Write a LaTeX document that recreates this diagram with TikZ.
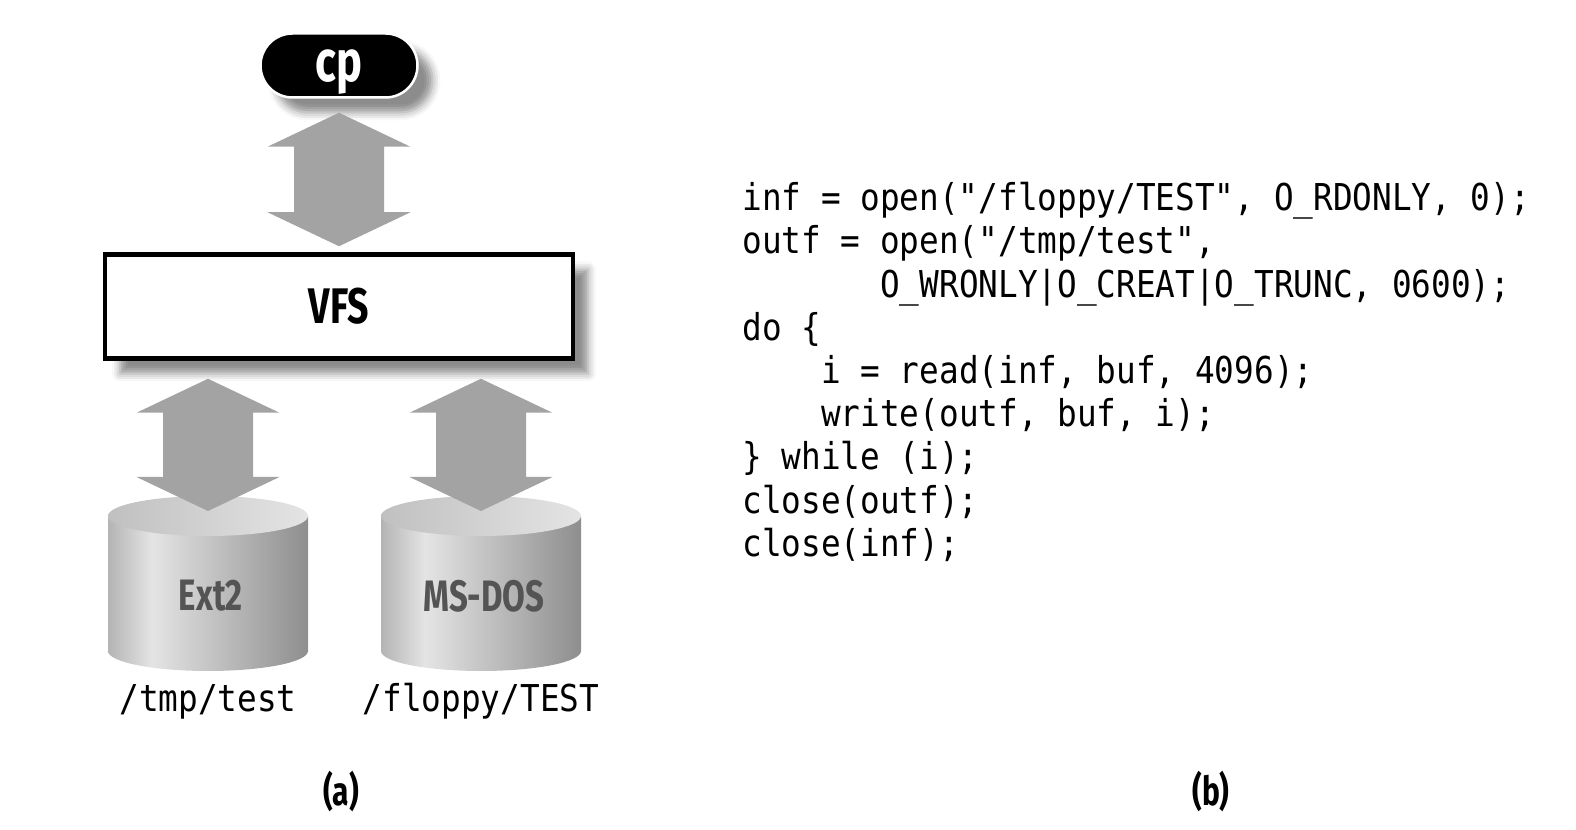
\documentclass[tikz,border=0pt]{standalone}
\usepackage{fontspec}
\setmonofont[FakeStretch=0.884]{DejaVu Sans Mono}
\newfontfamily\labelfont[FakeStretch=0.75]{Fira Sans}
\usetikzlibrary{positioning,calc,shadows.blur}

\definecolor{arrowgray}{HTML}{A3A3A3}
\definecolor{disklabel}{HTML}{545454}
\definecolor{bodyleft}{HTML}{B4B4B4}
\definecolor{bodylight}{HTML}{E4E4E4}
\definecolor{bodyright}{HTML}{8E8E8E}
\definecolor{topleft}{HTML}{C0C0C0}
\definecolor{topright}{HTML}{E4E4E4}

\pgfdeclarehorizontalshading{diskbody}{100bp}{color(0bp)=(bodyleft); color(25bp)=(bodyleft);
  color(36bp)=(bodylight); color(75bp)=(bodyright); color(100bp)=(bodyright)}
\pgfdeclarehorizontalshading{disktop}{100bp}{color(0bp)=(topleft); color(25bp)=(topleft);
  color(75bp)=(topright); color(100bp)=(topright)}

% vertical double block arrow between two points
\newcommand{\blockarrow}[2]{%
  \fill[arrowgray] let \p1=#1, \p2=#2 in
    (\x1,\y1) -- (\x1+35.75pt,\y1-17pt) -- (\x1+22.5pt,\y1-17pt)
    -- (\x1+22.5pt,\y2+17pt) -- (\x1+35.75pt,\y2+17pt) -- (\x1,\y2)
    -- (\x1-35.75pt,\y2+17pt) -- (\x1-22.5pt,\y2+17pt)
    -- (\x1-22.5pt,\y1-17pt) -- (\x1-35.75pt,\y1-17pt) -- cycle;}

\begin{document}
\begin{tikzpicture}[x=0.5pt, y=0.5pt, every node/.style={inner sep=0pt},
    boldlabel/.style={font=\labelfont\bfseries\fontsize{#1}{#1}\selectfont},
    softshadow/.style={blur shadow={shadow xshift=7.5pt, shadow yshift=-7.5pt,
        shadow blur radius=4pt, shadow opacity=45}},
    codetext/.style={font=\ttfamily\fontsize{18.5}{21.6}\selectfont\frenchspacing}]
    \useasboundingbox (0,0) rectangle (1576,830);

    % (a) - cp, VFS and the two file systems
    \node[boldlabel=29, text=white, fill=black, draw=white, line width=1.25pt, text depth=0pt,
          minimum width=78.5pt, minimum height=32pt, rounded corners=16pt,
          softshadow] (cp) at (339,764.5) {cp};
    \node[boldlabel=25, fill=white, draw=black, line width=2.25pt,
          minimum width=234pt, minimum height=52pt, softshadow] (vfs) at (339,523.5) {VFS};

    \foreach \name/\cx/\fs/\file in {ext2/208/Ext2/{/tmp/test}, msdos/481/MS-DOS/{/floppy/TEST}} {
        \shade[shading=diskbody] (\cx-100,314) -- (\cx-100,179)
            arc[start angle=180, end angle=360, x radius=50pt, y radius=10pt]
            -- (\cx+100,314) -- cycle;
        \shade[shading=disktop] (\cx,314) ellipse[x radius=50pt, y radius=10pt];
        \coordinate (\name top) at (\cx,314);
        \node[boldlabel=22, text=disklabel] (\name) at (\cx+3,234) {\fs};
        \node[codetext, anchor=base] (\name file) at (\cx,118) {\file};
    }

    \blockarrow{($(cp.south)+(0,-7pt)$)}{($(vfs.north)+(0,3pt)$)}
    \blockarrow{($(vfs.south -| ext2top)+(0,-9pt)$)}{($(ext2top)+(0,2.5pt)$)}
    \blockarrow{($(vfs.south -| msdostop)+(0,-9pt)$)}{($(msdostop)+(0,2.5pt)$)}

    \node[boldlabel=20] (capa) at (341,38) {(a)};

    % (b) - the copy loop
    \node[codetext, align=left, anchor=north west] (code) at (742,648) {%
        inf = open("/floppy/TEST", O\_RDONLY, 0);\\
        outf = open("/tmp/test",\\
        \ \ \ \ \ \ \ O\_WRONLY|O\_CREAT|O\_TRUNC, 0600);\\
        do \{\\
        \ \ \ \ i = read(inf, buf, 4096);\\
        \ \ \ \ write(outf, buf, i);\\
        \} while (i);\\
        close(outf);\\
        close(inf);};

    \node[boldlabel=20] (capb) at (1211,38) {(b)};
\end{tikzpicture}
\end{document}
